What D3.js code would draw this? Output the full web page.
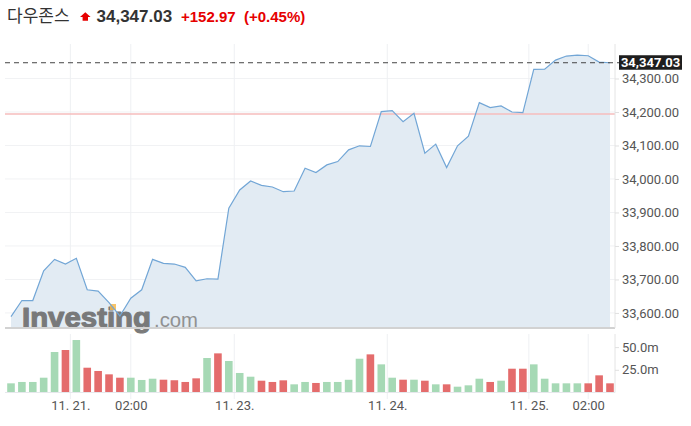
<!DOCTYPE html>
<html><head><meta charset="utf-8">
<script src="https://cdn.jsdelivr.net/npm/d3@7"></script>
<style>html,body{margin:0;padding:0;background:#fff;overflow:hidden}</style>
</head><body>
<svg id="chart" width="691" height="426"></svg>
<script>
// ---- data ----
const title = "다우존스";
const lastPrice = 34347.03;
const change = "+152.97";
const changePct = "(+0.45%)";
const prevClose = 34194.06;
const prices = [33589,33637,33637,33726,33760,33746,33763,33669,33665,33631,
  33591,33644,33669,33760,33748,33746,33736,33696,33702,33701,
  33913,33967,33994,33981,33976,33962,33964,34032,34019,34042,
  34052,34087,34099,34097,34201,34204,34171,34196,34077,34104,
  34034,34099,34128,34228,34213,34218,34200,34198,34327,34328,
  34355,34367,34370,34368,34349,34347.03];
const volumes = [10.1,11.6,11.6,16.3,44.6,46.8,57.8,27.3,23.7,20,
  16.3,16.3,13.8,15.2,14.1,13.5,11.6,15.6,38,43.1,
  34.7,21.5,17.4,13,11.6,13.4,9,11.6,10.5,11.6,
  11.6,14,37.2,42,31,16.3,14.1,14.1,13,9,
  9,6.4,7.9,15.2,11.6,13,26.2,26.2,31,15.2,
  10.1,10.1,10.1,10.1,18.9,10.1];
const directions = ["up","up","up","up","up","down","up","down","down","down",
  "down","up","up","up","down","down","down","down","up","down",
  "up","up","up","down","down","down","up","up","down","up",
  "up","up","up","down","up","up","down","up","down","up",
  "down","up","up","up","down","up","down","down","up","up",
  "up","up","up","down","down","down"];
const timeTickIndex = [5.45, 11, 20.5, 34.55, 47.55, 53];
const timeTickLabels = ["11. 21.", "02:00", "11. 23.", "11. 24.", "11. 25.", "02:00"];
const priceTicks = [33600,33700,33800,33900,34000,34100,34200,34300];
const volumeTicks = [25, 50];

// ---- layout ----
const plotLeft = 5, plotRight = 615, plotTop = 44, plotBottom = 328;
const volTop = 334, volBottom = 392.5;

const svg = d3.select("#chart");
const x = d3.scaleLinear().domain([0, prices.length - 1]).range([11, 610]);
const y = d3.scaleLinear().domain([33555, 34403]).range([plotBottom, plotTop]);
const yv = d3.scaleLinear().domain([0, 50]).range([volBottom, 347.1]);

// header
const hdr = svg.append("g");
hdr.append("text").attr("x", 7).attr("y", 22).text(title)
  .attr("font-family", "'Noto Sans CJK KR', sans-serif").attr("font-size", 17).attr("fill", "#333");
hdr.append("path").attr("d", "M80,17 L85.3,12.2 L90.6,17 L88,17 L88,20.8 L82.6,20.8 L82.6,17 Z").attr("fill", "#e60000");
hdr.append("text").attr("x", 96.5).attr("y", 22).text(d3.format(",.2f")(lastPrice))
  .attr("font-family", "'Liberation Sans', Arial, sans-serif").attr("font-weight", "bold").attr("font-size", 17).attr("fill", "#333");
hdr.append("text").attr("x", 181).attr("y", 22).text(change)
  .attr("font-family", "'Liberation Sans', Arial, sans-serif").attr("font-weight", "bold").attr("font-size", 15).attr("fill", "#e60000");
hdr.append("text").attr("x", 244).attr("y", 22).text(changePct)
  .attr("font-family", "'Liberation Sans', Arial, sans-serif").attr("font-weight", "bold").attr("font-size", 15).attr("fill", "#e60000");

// grid
const grid = svg.append("g");
grid.selectAll(".hg").data(priceTicks).join("line")
  .attr("x1", plotLeft).attr("x2", plotRight).attr("y1", d => y(d)).attr("y2", d => y(d))
  .attr("stroke", "#f1f2f4").attr("stroke-width", 1);
grid.selectAll(".vg").data(timeTickIndex).join("line")
  .attr("x1", d => x(d)).attr("x2", d => x(d)).attr("y1", plotTop).attr("y2", plotBottom)
  .attr("stroke", "#eef0f3").attr("stroke-width", 1);
grid.selectAll(".vg2").data(timeTickIndex).join("line")
  .attr("x1", d => x(d)).attr("x2", d => x(d)).attr("y1", volTop).attr("y2", 399)
  .attr("stroke", "#eef0f3").attr("stroke-width", 1);

// area + line
const area = d3.area().x((d, i) => x(i)).y0(plotBottom).y1(d => y(d));
const line = d3.line().x((d, i) => x(i)).y(d => y(d));
svg.append("path").datum(prices).attr("d", area).attr("fill", "#e2ebf3");

// prev close line
svg.append("line").attr("x1", plotLeft).attr("x2", plotRight)
  .attr("y1", y(prevClose)).attr("y2", y(prevClose))
  .attr("stroke", "#f6bcbc").attr("stroke-width", 1.6);

// watermark
const wm = svg.append("g").attr("opacity", 0.92);
wm.append("text").attr("x", 22).attr("y", 327).text("Investing")
  .attr("font-family", "'Liberation Sans', Arial, sans-serif").attr("font-weight", "bold")
  .attr("font-size", 27).attr("textLength", 129).attr("lengthAdjust", "spacingAndGlyphs")
  .attr("fill", "#707070").attr("stroke", "#707070").attr("stroke-width", 1.1).attr("stroke-linejoin", "round");
wm.append("text").attr("x", 154).attr("y", 327).text(".com")
  .attr("font-family", "'Liberation Sans', Arial, sans-serif")
  .attr("font-size", 20).attr("textLength", 44).attr("lengthAdjust", "spacingAndGlyphs").attr("fill", "#8a8a8a");
wm.append("rect").attr("x", 110).attr("y", 304).attr("width", 6).attr("height", 6).attr("fill", "#f7b441").attr("opacity", 0.85);

svg.append("path").datum(prices).attr("d", line)
  .attr("fill", "none").attr("stroke", "#72a6d6").attr("stroke-width", 1.2);

// last price dashed
svg.append("line").attr("x1", plotLeft).attr("x2", plotRight + 4)
  .attr("y1", y(lastPrice)).attr("y2", y(lastPrice))
  .attr("stroke", "#444").attr("stroke-width", 1).attr("stroke-dasharray", "5,4");

// bottom axis line of price panel
svg.append("line").attr("x1", plotLeft).attr("x2", plotRight).attr("y1", plotBottom).attr("y2", plotBottom)
  .attr("stroke", "#d2d2d2").attr("stroke-width", 2);

// right price axis
const yAxis = d3.axisRight(y).tickValues(priceTicks).tickFormat(d3.format(",.2f")).tickSize(4).tickPadding(3);
const ya = svg.append("g").attr("transform", `translate(${plotRight},0)`).call(yAxis);
ya.select(".domain").attr("stroke", "#e4e4e4").attr("d", `M0,${plotTop}V${plotBottom}`);
ya.selectAll(".tick line").attr("stroke", "#e0e0e0");
ya.selectAll("text").attr("font-family", "Roboto, sans-serif").attr("font-size", 13).attr("fill", "#555");

// last price box
const lp = svg.append("g");
lp.append("rect").attr("x", plotRight + 4).attr("y", y(lastPrice) - 7.5).attr("width", 63).attr("height", 14.5).attr("fill", "#1e1e1e");
lp.append("text").attr("x", plotRight + 35.5).attr("y", y(lastPrice) + 4.5).attr("text-anchor", "middle")
  .text(d3.format(",.2f")(lastPrice))
  .attr("font-family", "Roboto, sans-serif").attr("font-weight", "bold").attr("font-size", 13).attr("fill", "#fff");

// volume bars
const bw = 7.6;
svg.append("g").selectAll("rect").data(volumes).join("rect")
  .attr("x", (d, i) => x(i) - bw / 2).attr("width", bw)
  .attr("y", d => yv(d)).attr("height", d => volBottom - yv(d))
  .attr("fill", (d, i) => directions[i] === "up" ? "#a6d9b5" : "#e46c6c");

svg.append("line").attr("x1", plotLeft).attr("x2", plotRight).attr("y1", volBottom).attr("y2", volBottom)
  .attr("stroke", "#e6e8ec").attr("stroke-width", 1.2);

const vAxis = d3.axisRight(yv).tickValues(volumeTicks).tickFormat(d => d3.format(".1f")(d) + "m").tickSize(4).tickPadding(3);
const va = svg.append("g").attr("transform", `translate(${plotRight},0)`).call(vAxis);
va.select(".domain").attr("stroke", "#e4e4e4").attr("d", `M0,${volTop}V${volBottom}`);
va.selectAll(".tick line").attr("stroke", "#e0e0e0");
va.selectAll("text").attr("font-family", "Roboto, sans-serif").attr("font-size", 13).attr("fill", "#555");

// time axis labels
const xAxis = d3.axisBottom(x).tickValues(timeTickIndex).tickFormat((d, i) => timeTickLabels[i]).tickSize(0).tickPadding(8);
const xa = svg.append("g").attr("transform", `translate(0,${volBottom})`).call(xAxis);
xa.select(".domain").remove();
xa.selectAll("text").attr("font-family", "Roboto, sans-serif").attr("font-size", 13).attr("fill", "#555");
</script>
</body></html>
